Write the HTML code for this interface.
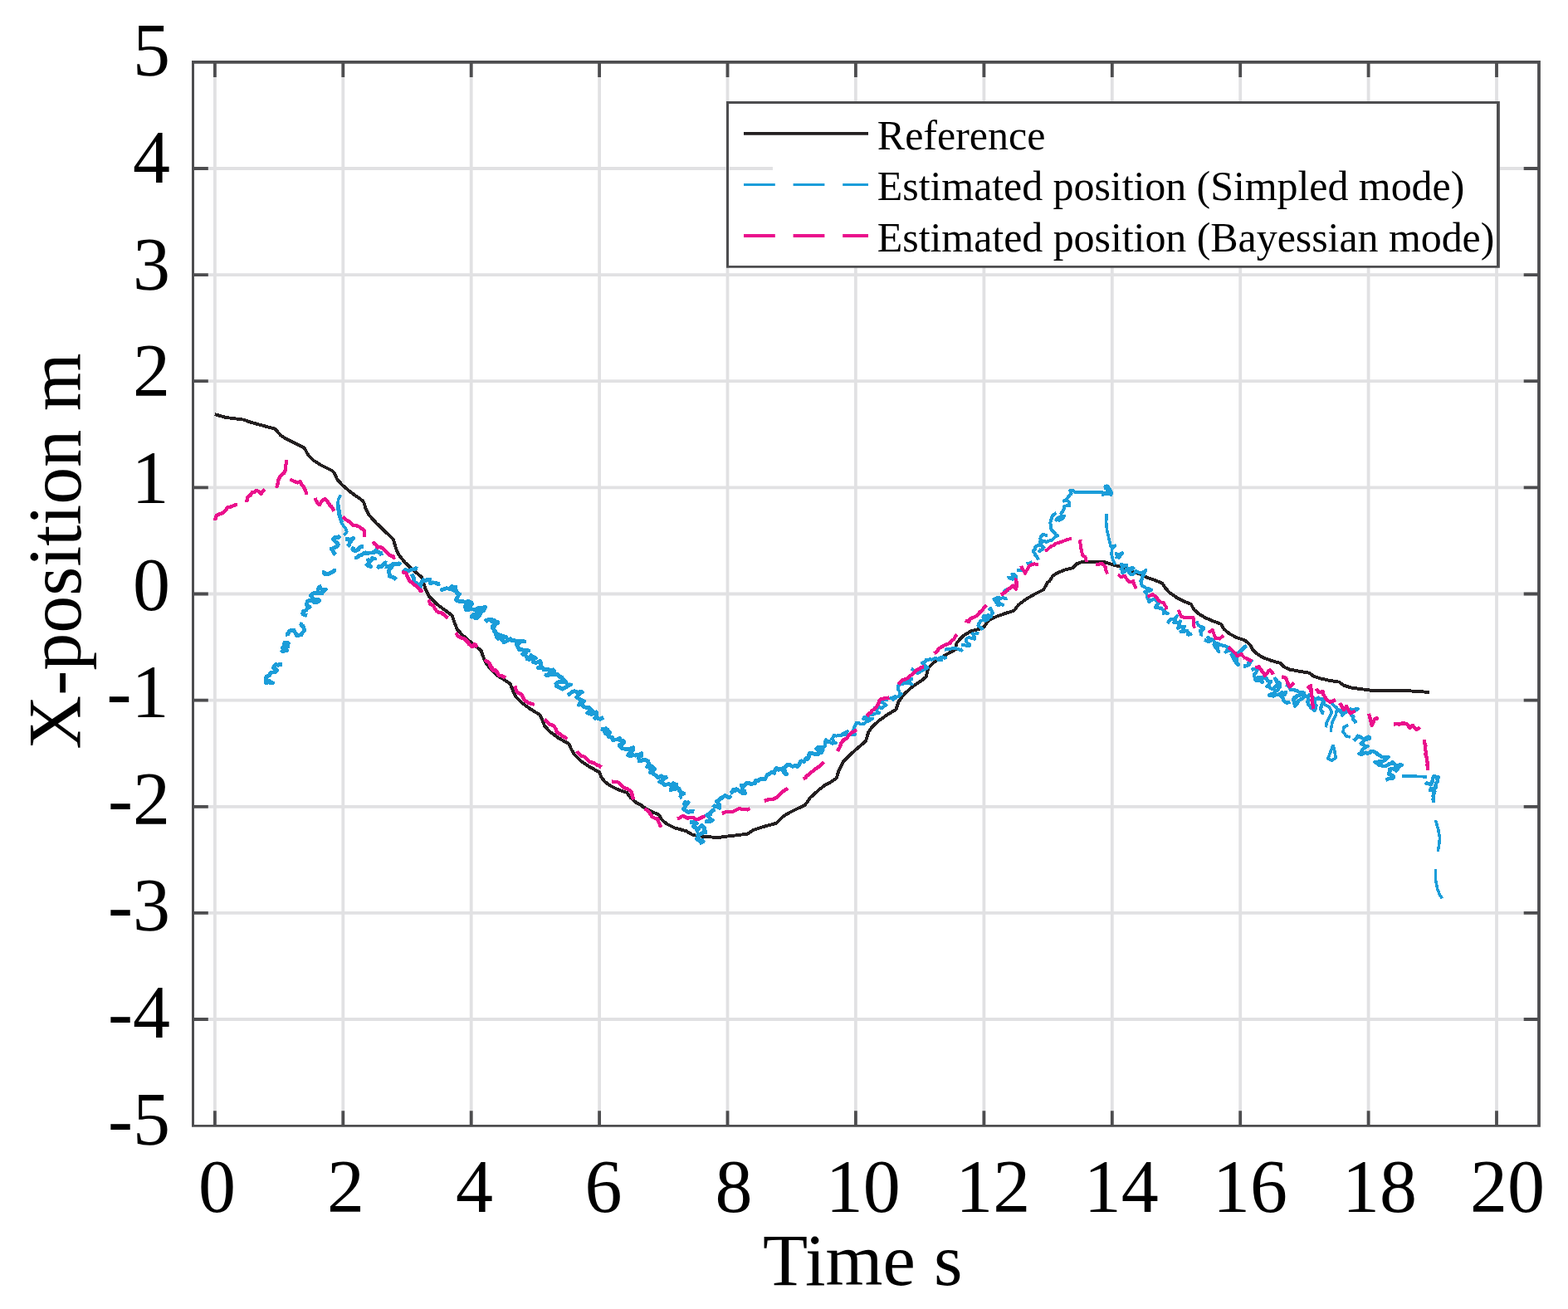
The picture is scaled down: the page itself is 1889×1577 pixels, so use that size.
<!DOCTYPE html>
<html lang="en">
<head>
<meta charset="utf-8">
<title>X-position vs Time</title>
<style>
html,body{margin:0;padding:0;background:#fff;}
body{width:1889px;height:1577px;overflow:hidden;}
svg{display:block;}
text{font-family:"Liberation Serif",serif;fill:#000;}
.tick{font-size:90px;}
.lab{font-size:90px;}
.leg{font-size:50px;}
.g{stroke:#e1e1e3;stroke-width:3.8;fill:none;}
.a{stroke:#4d4d4f;stroke-width:3.8;fill:none;}
.k,.b,.m{fill:none;stroke-width:3.9;stroke-linejoin:round;stroke-linecap:butt;}
.k{stroke:#231f20;}
.b{stroke:#1b9dd9;}
.m{stroke:#ea108c;}
.b{stroke-width:3.6;}
.m{stroke-width:3.7;}
</style>
</head>
<body>
<svg width="1889" height="1577" viewBox="0 0 1889 1577">
<rect width="1889" height="1577" fill="#fff"/>
<path class="g" d="M258.9 74.8V1356.5M413.3 74.8V1356.5M567.7 74.8V1356.5M722.1 74.8V1356.5M876.5 74.8V1356.5M1030.9 74.8V1356.5M1185.4 74.8V1356.5M1339.8 74.8V1356.5M1494.2 74.8V1356.5M1648.6 74.8V1356.5M1803 74.8V1356.5M232.5 1228H1854M232.5 1099.9H1854M232.5 971.8H1854M232.5 843.6H1854M232.5 715.5H1854M232.5 587.4H1854M232.5 459.2H1854M232.5 331.1H1854M232.5 203H1854"/>
<g id="curves" shape-rendering="crispEdges">
<path class="k" d="M258.7 499.1L271.8 502.9L293.2 505.6L302.7 508.9L328.9 516.1L331.3 516.5L337.7 524L344.8 528.8L365.5 539.1L367.8 541.5L371 547.8L378.2 555L386.1 560L400.4 567.2L402.8 569.7L406 577.2L412.3 584.3L422.6 593.1L436.1 602.6L438.2 605L440.9 613.7L444.9 620.9L452.8 629.6L472.7 648.7L474.3 651L477.1 661.3L481 669.2L488.2 678L497.7 686.7L508 695.4L510.4 702.6L512.8 710.5L517.6 719.3L525.5 727.2L535 734.3L544.6 741.5L547 748.6L550.9 758.2L557.3 765.3L568.4 774.8L579.5 783.6L581.9 790.7L585.9 799.5L592.2 807.4L600 814.5L604.5 816.9L614.8 824L617.5 831.2L621.1 839.1L628.3 846.3L637.8 853.4L650.5 861.3L652.9 866.1L656.1 874.8L663.2 882L672.8 889.1L685.5 896.3L688.3 902.6L691.8 909L699.8 916.9L710.9 924.1L722 930.4L724.4 936L728.3 941.5L734.7 946.3L744.2 951.1L755.3 955L760.1 961.4L766.5 967L772.8 970L774.6 972L784.2 977.5L793.7 981.5L796.9 987.1L803.2 992.6L812.8 997.4L827.1 1001.3L833.4 1005.3L839.8 1006.9L849.3 1008L865.2 1009L874.7 1007.7L889 1006.1L900.9 1004.5L908 999.8L917.6 996.6L935 991.8L943 983.9L950.9 979.1L970 969.6L976.3 960.8L985.9 952.1L993.8 945.8L1000 942.6L1007.9 937.4L1010.3 928.7L1015.9 917.6L1023.8 909.6L1031.8 902.5L1042.9 893L1046.1 882.6L1050.8 875.5L1058.8 868.3L1069.9 860.4L1079.4 854.8L1082.6 845.3L1088.9 836.6L1098.5 827.8L1111.2 819.1L1115.9 815.1L1118.3 804.8L1125.5 797.7L1136.6 790.5L1150.9 782.6L1152.5 774.6L1160.4 765.9L1169.9 760.3L1179.5 758L1185.8 754.8L1190.6 747.6L1200.1 742.9L1211.2 738.9L1221.5 735.7L1227.1 728.6L1236.6 721.4L1247.8 715.1L1257.3 710.3L1262 701.6L1264.4 700L1268.3 693.7L1274.6 689.8L1282.6 686.6L1292.1 684.2L1296.9 679.4L1303.2 677.1L1314.3 676.6L1328.6 676.6L1335 678.6L1342.9 681L1349.3 682.6L1358.8 685.8L1366.8 689L1374.7 692.1L1382.6 696.1L1392.2 699.3L1400.1 702.5L1404.1 708.8L1409.6 714.4L1417.6 719.9L1427.1 724.7L1435 727.9L1438.2 734.2L1444.6 739.8L1452.5 744.5L1462 748.5L1470.8 751.7L1474.7 758L1481.1 763.6L1490.6 768.4L1500 771.5L1506.1 776.9L1509.2 782.7L1514 787.5L1521.9 792.3L1531.5 795.9L1542.6 798.9L1546.6 803.4L1553.7 806.6L1564.8 808.6L1577.5 810.8L1582.3 814.5L1591.8 817.7L1602.9 820.1L1613.3 821.6L1618.8 825.6L1626.8 828.3L1637.9 829.9L1653.8 832L1669.6 832L1688.7 831.6L1704.6 832.8L1721.7 833.9"/>
<path class="b" d="M408 608.2L409.3 619.3L412.5 629.6M410.7 596.3L407.5 601.8L406.8 611.3L408.3 620.9L411.5 630.4L416.3 636.8L417.9 640.7L413.9 644.7M1293.7 593.2L1328.6 593.2M1333.1 619.1L1332.6 629.4L1333.7 638.9L1335.8 648.5L1338.2 658L1343.7 657.2L1339.8 661.2L1339 667.5L1340.6 673.9L1343.7 680.2M1595 848.6L1601.3 851.8L1604.5 858.2L1601.3 864.5L1598.2 870.9L1597.4 876.4M1604.5 847.1L1610.9 853.4L1609.3 861.3L1605.3 869.3L1603.7 877.2L1603.4 882M1606.1 897.1L1602.9 905.8L1599.8 913.8L1604.5 916.1L1609.3 913L1607.7 904.2L1606.1 897.1M1688.7 935.2L1704.6 935.2L1718.9 936M1624.4 873.3L1618.8 876.4L1618 882L1622 886.8L1626.8 888.3M1726.9 963.7L1726.9 966.8M1729.5 988.1L1732.5 998.6L1734.6 1009.7L1733.6 1018.1L1732.3 1025.8M1729.5 1047L1729.7 1061.4L1731.8 1071.1L1734.6 1078.1L1737.4 1082.3"/>
<path class="b" style="stroke-width:3.9" d="M1000 894.5L1002.6 895.7L1006.8 895.3L1003.9 894.1L1003.6 891.5L1001.9 890.3L1004 887.9L1004.7 885.9L1007.7 886.7L1009.9 885.8L1013.4 886L1014.7 884.7L1016.1 883.8L1019.3 882.6L1020.9 881L1017.9 882.5L1016.1 884.7L1019 885.1L1021.2 885.1L1023.8 884.6L1027.4 884.9L1030.4 884.9L1029.4 882.7L1028.5 880.3L1028.4 878.3L1029.6 875.3L1030.6 873.5L1031.9 870.5L1034 870.6L1036.7 872.5L1039.7 872.4L1041.7 871.2L1044 869L1047.1 868.5L1049 867L1051.4 865.6L1048.3 866.6L1045.4 865.4L1041.9 865.8L1040.3 866.2L1041.3 863.9L1043.8 864.5L1045.6 862.4L1048 861L1050.7 861.3L1053.7 859.8L1055.7 859.4L1059 858.7L1056.5 857L1055.8 855.7L1053.8 852.7L1057.1 853.8L1059.3 851.9L1061.8 853.4L1063.7 852L1066 850.1L1067.6 849.4L1065.5 847.7L1063.1 846.6L1059.9 845.6L1062.5 843.6L1064.8 843L1067.2 843.2L1069.6 842.5M1071.5 840.6L1074.1 840.8L1076.8 839.9L1078.8 838.9L1078 840.3L1076.3 842.8L1077.6 841.4L1080.5 839.7L1082.1 839.3L1084.1 837.3L1086 835.9L1083.8 834.9L1083.2 832L1081.5 830.7L1081.8 828.2L1081.9 826L1085.1 823.9L1087.5 824.1L1090.3 822.4L1093.4 823.1L1095.6 822.5L1098.6 824.3L1095.9 823.1L1094.5 821.7L1092 820L1095.3 819.6L1098 818.3L1100.2 818.1M1097.7 805.6L1099.7 806.8L1101.7 808.9L1103.6 808.7L1105.5 810.9L1108.9 809.2L1110.7 808L1113 806.9L1115.4 805.7L1117.7 804.3L1115.3 802.5L1113.6 801.5L1110.9 798.7L1114.3 797.7L1115.5 795.2L1117.7 795.4L1120.5 794.1L1122.5 794.8L1125.6 793.4L1127.7 793.1L1130.1 795L1132.2 795.3L1134.5 795.4L1132.4 793.7L1130.3 793.4L1133.5 792.1L1135.5 791.3L1138.1 792.8L1140.8 791.9M1138.2 782.6L1140.9 782.3L1143.5 782.2L1147 781.3L1149.8 780.6L1151.5 780.9L1154.3 782.1L1156.5 783L1158.7 783.7L1157 781.7M1158 777L1160.7 777.5L1162.5 777.3L1165.2 778.1L1168.2 778L1167.7 775.9L1165.4 774.8L1163.8 771.9L1163.9 770.6L1165.5 768.6L1167.6 767.9L1170.4 768.9L1172.8 768.7L1174 770.2L1173.8 767.3L1172.8 765L1171.4 763.4L1174.1 763.7L1176.9 762.8L1179.2 763.6M1184.2 758.8L1182.3 756.5L1180.7 755.7L1178.4 753.8L1179.2 751.3L1180.7 749.6L1180.9 748.2L1183.7 747.3L1185.8 746.8L1187.3 745.7L1185.7 743.7L1184.2 743.5L1185.8 741.7L1188.4 741.6L1191 740.8L1188.9 743.2L1188.1 744.4L1187.4 747.9L1190.2 746.1L1191.3 744L1193.6 743.5L1194.5 740.1L1196.3 738.5L1195.1 736.5L1193.6 734.4L1192.2 733.7L1195 732.4M1208 728.6L1205.9 728L1203.4 727.1L1200.5 726.7L1199.2 723.6L1197.4 721.7L1199.3 721.2L1201.2 720.2L1203.8 719.8L1206 721.1L1207.5 720.2L1211.1 720.8L1212.3 720.3M1209.6 712.7L1211.2 710.9L1214.1 709.8"/>
<path class="b" style="stroke-width:4.0" d="M1200 727.9L1202 729L1205 728.4L1208.5 728.6L1205.9 727.8L1203.8 725.8L1201.5 723.5L1204.1 721.7L1205.7 720.8L1208.8 720.1L1211.4 721.3L1213.3 720.4M1208.7 712.8L1211.5 712.5L1213.2 711.9L1215.5 710.8M1213.5 696.1L1216.1 695.7L1218.4 697.5L1220.2 697.6L1220.4 694.5L1219.4 691.7L1222.4 692.3L1224.3 694.6L1226 694.5M1224.6 687.4L1227.6 687.5L1229.2 687.3L1232 686.2M1236.5 678.6L1238.4 678.5L1240.5 678.5L1243.5 677.1M1250.8 674.7L1250.2 672.8L1248.7 670L1247 668.5L1247.3 667.2L1245.3 665.4L1245.3 663.2L1247.4 660.8L1247.3 659L1249.1 657.5L1251.5 656.9L1253.5 656.8L1255.8 658.4L1257.5 659.5L1255.5 661.9L1254.1 662.6L1252.1 664.1L1253.1 663L1254.3 661.1M1254 656.4L1252.7 653.3L1254.2 650.6L1253.2 648.7L1254.2 646.3L1256.1 643.8L1258.7 644.4L1261.9 645.3M1254.8 653.2L1257.7 652L1261.1 652.9L1263.2 651.7L1265.5 651.1L1267.8 650.3L1270.1 648L1271.3 646.6L1273.8 645.5L1271.4 643.5L1270.1 641.1L1268.5 640.6L1266.9 638.1L1265.7 635.8L1266.1 632.8L1265.2 630L1266.1 627.4L1266.3 626.2L1267.1 623L1267.8 621.8L1269.6 620.1L1272.5 617.6M1271.5 627.8L1272.7 626.3L1273.8 624.3L1276.1 623.1L1279.6 621.9L1282.1 621.8L1280.8 624.3L1277.1 626.4M1277.8 619.9L1278.9 617.7L1281 615.1L1281.9 612.3L1282.3 610L1285.2 609.2L1287.1 608.3L1288.4 609.3L1288.4 606L1286.9 603.9L1284.6 602.7L1281.6 603.5L1284.5 602.2L1286.4 599.6L1288.4 596.6L1290.7 594.6L1289.2 590.9L1291.4 591L1293 591.4L1295.2 592.9M1327.1 593.2L1330.1 593.8L1333.5 594L1330.8 594.8L1328.6 596.1L1331.2 594.7L1334.6 595.1L1337.4 595.1L1338.5 595.9L1338.9 594.1L1338 591.7L1336.4 589.1L1333.6 587.5L1332.2 586.9L1329.9 585.2M1342.9 667.5L1345.5 667.4L1348.7 668L1352.1 666.3L1350.4 668.5L1348.9 670.3L1348.1 671.8L1345.4 670.9L1343.6 670.7M1349.3 680.2L1351.7 680.4L1354.8 680.8L1357.6 680.8L1355.4 681.7L1352.5 683.2L1350.5 685.5L1352.6 687.2L1352.2 690.2L1354.6 688.8L1355.8 687.6L1357.2 685.5L1360.6 685L1363 684.4L1365.7 684.3L1363.6 686.4L1360.5 686.8L1359 687.6L1360.5 689.9L1362.5 691.6L1363.2 692.5L1365.6 691.3L1367 690L1368.7 687.8L1370.6 689.2L1371.9 689.7L1375.1 690.1L1378.2 688.7L1380.5 687.1L1378.4 690.3L1377.9 692.9L1376.2 694.3L1376.3 696.9L1374.2 699.6L1375.5 701.2L1375.2 703.9L1376.5 706.2L1378.2 707L1381 708.6L1383.5 708.7L1385.5 710L1386.9 710.7L1384.7 711.7L1381.7 711.6L1379.2 713.3L1381.2 714.8L1382 718.1L1382.2 720.3L1384.4 723L1384.2 725.4L1386.2 722.7L1388.1 722.6L1390.9 721.3L1393.2 723.4L1394.4 725.5L1396.7 725.7L1395 728.1L1392.8 729L1392.1 731.8L1393.7 731.6L1396.9 732.6L1398.7 732.4L1400.5 734.5L1402.7 735.6L1404 738.1L1406.7 738.8L1403.9 738.5L1400.1 738.6M1406.5 750.9L1407.9 748.9L1410.5 746.2L1412.9 745.7L1415.3 745.2L1417.8 742.3L1416.2 744.7L1416 747.3L1414.3 750.1L1417.6 749.7L1419.6 749.8L1421.8 748.5L1421.2 751L1420 753.4L1419.2 756.7L1421.3 755.3L1424.7 755.5L1426.9 754.5L1425.7 756.9L1424.5 759.8L1422.4 760.8L1425.5 760.7L1427.1 760.8L1429.9 759.5L1431.5 761.9L1432.6 762.7L1434.5 764.2L1431.8 764.6L1429 763.5M1441.4 748.5L1442.6 751.3L1443.5 752.9L1446.1 754.7L1448.1 755.3L1450.3 756.7L1449.6 758.4L1445.6 759.7L1446.7 761.5L1447.1 764.3L1446.8 766.5M1450.9 770.8L1453.2 771.8L1455.6 772.8L1457.8 772.7L1457.1 769.9L1455.4 768.1L1457.6 769.5L1459.1 770L1461.6 770.9L1463 773.2L1462.5 776.5L1463 778.1L1465.4 780.9L1466.8 782.7L1468.1 785.3L1467.3 782.9L1467.4 780.6L1466.3 777.6L1466.9 774.8L1468.8 776.4L1471 777.4L1473.6 777.6L1474.9 778L1478 779.2L1479.4 780.1L1478.2 783.3L1476.5 785.7L1478.5 783.9L1481.4 783.6L1484.6 783.5L1484.9 786.3L1486.3 788.7L1485.7 790.8L1486.3 794.1L1488.1 795.3L1489.6 798.3L1490.2 799.6M1500 778.7L1497.4 780.9L1495.5 782.3L1493.8 784.3L1493.9 786"/>
<path class="b" style="stroke-width:4.4" d="M1502.1 778L1500.3 779.4L1498.9 780.4L1496.4 782.7L1495.4 783.2L1494.7 785.3L1491.7 786.8L1489.6 789.4L1489.8 792.2L1489.3 794.3L1489.8 796.8L1490.6 799.7L1491.8 800.8L1489.7 799.4L1487.7 796.2L1487 793.3L1485 791.8L1484.4 789.3L1482.7 787.3M1498.1 802.6L1500.5 802.4L1501.7 802L1504.3 801.1L1506 797.6L1507.9 796L1504.9 797.6L1503.8 799.1L1501.7 798.9M1507.6 807.3L1510.1 806L1513.6 806.3L1515.2 806L1514 808.6L1513.2 810.2L1510.9 812.4L1510.7 813.8L1512.2 816.9L1512.4 819.1L1514.8 820.3L1517.6 820L1521 821.9L1518 819.5L1517 818.1L1515.3 815.8L1517.9 816.5L1520.1 816.5L1523.6 816.7L1525.8 816.9L1526.5 819.6L1529.3 821.2L1531.2 821.1L1529.5 823L1528.2 825.4L1526.2 826.9L1528.9 827.1L1530.3 829.1L1533.3 830.1L1535.6 827.6L1537.5 826.4L1540.2 823.2L1538 821.7L1536.4 817.6L1538.7 821.4L1540.8 821.9L1542.3 824.3L1541.9 827.8L1540.5 828.9L1539.4 831.5L1537.1 832.1L1535.7 834.7L1533.4 835.6L1529.8 837.1L1528.9 837.8L1531.7 837L1533.8 838.7L1536.2 837.1L1540.1 836.8L1542.2 836.2L1544.5 834.3L1545.8 835.3L1549.3 834.1L1547.5 836.8L1545.4 837.5L1543.4 839.3L1545.4 840.5L1546.1 843.9L1547.5 845.2L1549.9 846.6L1554.5 845.9M1548.9 824.8L1551.5 825.8L1553.9 828.2L1554.8 831L1558.1 830.8L1560.8 831.6L1562.9 832.6L1565.3 834L1567.7 833.8L1570.6 834.7L1568.1 835.4L1566.9 837.2L1564.4 838.3L1562.2 838.4L1561.2 840.5L1558.8 840.4L1558.3 843.3L1560 846L1559.2 847.5L1560.3 850.5L1561.8 848.4L1563.1 846.8L1564.2 844.2L1567.5 842.4L1569.5 841L1571.1 838.9L1572.7 838.6L1575 838.9L1577.9 837.2L1576.3 839.3L1575.9 842.3L1575.6 844.7L1575.8 848.2L1578.8 851.1L1579.1 852.8L1582.4 854.5L1583.8 855.8L1584.6 853.7L1585.6 849.9L1583.5 848.5L1584.3 844.6L1582 842.2L1583.6 841.7L1586.5 842.3L1588.4 840.7L1590.2 842.3L1593 842.4L1595.3 844.7L1594.6 847.1L1592.9 847.5L1591.9 850.6L1590.8 853.9L1592 856.6L1593.5 858.8L1595.2 859.3M1612.5 855L1614.3 856.1L1616.4 859.1L1617.2 861.4L1618.5 860.3L1620 857.5L1622 857.4L1623.6 856.2L1626.8 854.3L1628.9 855.2L1630.8 855.1L1635.5 853.9L1632.3 856.3L1629.5 857.3L1628.1 860.5L1628.2 861.6L1630.4 863.4L1629.9 865.7L1631.7 868.3L1633.8 871.2M1630.7 892.3L1633.4 890.2L1634.3 889.2L1635.7 886.6L1639.5 888.2L1642 889.8L1644.1 890.2L1645.7 889.2L1648.6 887.6L1650.2 888.6L1649.7 889.9L1647 890.6L1644.8 890.8L1642.7 893.1L1641.1 894.1L1639.7 895.9L1641.8 896.9L1644.5 899.1L1647.6 898.9L1645.3 900L1642.4 902.2L1640.6 904.2L1640.4 906.8L1637.3 908.2L1640.5 908.6L1643.2 907.5L1645.5 906.7L1647.4 907.8L1650.5 906.7L1651.8 904.9L1655.1 905.5L1658.2 907.1L1659.4 908.7L1662.2 910.1L1664.8 912L1668 911.8L1670.4 912.1L1672.5 911.8L1670.6 913.9L1668.3 915.8L1666.9 916.8L1664.2 917.8L1661.2 917L1658.7 918.9L1656.6 918.1L1659.6 920.2L1661.1 921.6L1663.6 922L1665.9 923.1L1668.5 923L1671.7 921.6L1672.8 920.7L1675 920.1L1677.5 918L1678.7 919.7L1680.3 921L1682.5 924L1684 921.8L1686.7 921.6L1688.8 921.7L1685.9 923.3L1684.1 926.1L1682.3 928.6L1679.7 926.5L1677.5 926.1L1674.2 926.7L1674.6 929.2L1673.2 931.5L1673.6 933.2L1676.6 933.6L1679.1 935.7L1677.8 937.8L1674.3 937.7L1672.1 938.5L1669.3 939.8M1717.3 942.3L1718.8 943.8L1720.9 944.1L1723.7 945.3L1725.4 942.7L1725.6 941.3L1725.9 937.9L1727.5 935.4L1729.7 935.7L1733.2 936.3L1731.4 938.2L1731.9 941.4L1729.8 944.2L1729.5 946.9L1729.8 948.2L1728.9 949.8L1725.4 950.1L1723.8 950.3L1722.9 952.2L1725.7 952.3L1728.4 953.5L1727.8 955.2L1726.6 958.9L1726.9 961.2L1726.5 963L1727 966"/>
<path class="b" style="stroke-width:4.8" d="M318.3 823.3L321.6 822.3L323 821.5L325.3 822.4L328.6 822.8L325.8 822.2L323.8 820L320.5 819.9L320.2 816.5L320.9 815.2L324.3 813.7L326.1 810.3L329.4 809.9L331.4 809.5L333.8 807.4L331.3 805.7L329.5 804.5L330.7 802.1L332.5 800.2L334.8 801.4L336.8 800.4L339.7 800.6M338.9 786L339.9 784.9L343.8 783.6L345.6 783.7L344 781.3L340.3 780.6L341.1 779.7L344.6 778.7L346.8 779L343.3 778.5L342.3 775.8L343.1 774.2L346.8 775.1L349 773.4M346.9 766.1L346.1 763.5L348 761.7L348.7 760.5L350.9 759.3L354 759.3L355.9 762.6L357 764.4L357.7 765.9L359.6 765.6L361.4 764.8L362.9 765.1L364.7 761.7L366.2 760.2L366.2 757.5L364.9 754.1L362.9 753.1L363 752.2L361 750.9M369.9 741.5L366.7 740.5L364.7 739.6L365.1 736.7L368.4 735.4L371.4 731.5L373.2 731.2L370.7 730.1L369.1 728.1L370.4 724.7L372 723.5L375.7 723.2L377.9 725.5L379.5 725.2L382.1 725.3L384.7 723.5L382.9 722.2L377.9 721.9L376.3 719.6L374.4 717.6L377.4 715L378.3 714.6L381.4 714.6L384.2 714.4L387.8 715L388.7 713.2L392.3 710L388.5 710.4L385.8 708.9L383 709.6L384.8 707.2L387.6 705.9M390.5 687.5L389.9 689.8L392.1 691.8L395.2 691.8L397.9 690.4L400.8 689L402.9 687.8L403 684.6M409.6 645.4L408 647.3L405.4 647.3L404.2 647.2L401.5 649.5L402.9 651.5L406.2 654.4L407.4 655.8L406.2 658.2L404.3 658.8L402.1 660.5L399.3 661L401.1 664.1L402.4 666.3L404.3 668.1M415.9 649.4L418.7 649.3L421.2 650.4L422.5 650.1L425.9 648.4L422.9 650.5L423.1 652.5L420.9 654.1L421.1 656.4L418.7 658.5M423.1 659.7L425.7 660.8L425.7 663L428.6 663.5L431.8 662.1L432.4 660.3L434.9 658.5L437.8 658.1M427.1 672.4L429.7 671.7L432 669.9L435.3 668.5L437.5 667.1L440.5 665.7L442.2 666.9L445.1 666L448.1 665.9L450.5 665.5L452.5 662.9L454.6 665L456.6 665.6L458.9 666.2L459.6 669.4M440.6 678.8L442.5 680.8L443.1 681.6L446.8 682.4L444 681.1L444.7 677.6L443.6 674.6L446.9 675.4L448.3 672.7L451.6 673.1L451.9 675.3M454.8 685.1L456.9 682.3L459.9 682.4L461.2 680.3L464.6 677.8L466.3 678.2M463.6 682.7L467.4 682.9L468.6 682.1L472.3 680.8L473.3 679.3L477.2 680L480.8 678.9L482.7 680.6M473.1 681.1L472 682.8L469 685.9L468.6 689.2L469.3 692.3L469.3 694L471.9 695L474.4 695.8L477.2 698.6M484.2 689.1L486.3 688.7L488.7 686.3L492.2 688.1L495.5 686.1L498.9 685.9L501 684.6L503 685.2M496.1 691.5L497 693.4L499.1 697.3L498.1 698.8L499.4 701.3L502.3 703.1L503.8 704.8L506.4 706.6L507 704.3L507.6 701.9L510 698.8L512.7 699.5L514.4 698.2L518 698.2L517.9 700.5L518.8 702.9L521.7 701.9L524.3 702L527.9 703.8L530.2 702.8M530.3 711.3L532.1 710.7L535.7 709.6L538.2 708.7L542.2 709.6L544.4 706.3L547.4 707.9L548.8 707.1L548.6 710.1L546.1 711.1L550.2 712.2L550.5 715.2L553.5 715.6L552.6 715.9L551.7 718.6L550.7 720.2L549.6 722.4L550.9 723.6L553.5 724.4L556.6 724.3L559.5 725.3L562.5 724.9L563.5 724.5L566.5 725.1L563.9 725.8L563.8 729.9L560 730.6L561.5 734.3L563.9 734.7L566.8 733.5L570 734.1L573.5 734.4L575.3 733.1L577.6 731.9L582.2 732L584 731.5L583.1 735.2L580.5 736.1L578.4 738.1L576.3 739.3L572.1 740.1L570.6 740.1L568.2 743.2L571.4 742.2L574.9 742.8L577 742.3M584.3 748.6L585.8 747.2L588.7 746.7L592.5 747.7L595.1 747.2L597.6 750.5L596.1 752.5L595.7 754.4L594.1 757.4L595.1 759.1L595.3 760.1L597.1 762.4L597.7 764.9L599.9 767M560 734.3L563.3 733.9L564.3 733.7L566.6 731.7L567.6 727.5L570.6 725.9M567.9 742.2L569.6 742.2L572.3 744.6L574.6 744.6L577.3 742.2L578.8 739.5L579.5 736.7L581.7 734.8L583.6 733.7L584.7 731.6L583.9 733.1L580.8 733.9L578.1 734.7L575.3 733.9L571.6 735.9M584.6 749.4L587 747L588.4 747L592.5 746.4L592.8 748.6L595 749.1L599.4 749.3L599.5 750.4L598.4 751.2L595.3 752.8L593.3 754.6L593.3 756.4L595.5 759L597.6 762L599.7 764.4L602 765L603.8 765.6L606.9 766.8L608.7 768L609.9 767.6L608.3 768L606.3 767.9L602.5 767.5L599.7 767.6L598.2 767.6L600 769.3L602.2 768.4L604.8 770.7L606.3 772.1L607.2 774L609.7 772.6L612.2 771.1L614.9 769.7L616.8 771.8L619.6 771.5L622.6 772.8L625.2 772L629.3 772.4L632 773.1L629.2 772.2L626.6 773.8L622.3 776.3L624.1 779.2L624.7 780.6L625.9 783L628.6 782.7L631.2 784.1L633.9 783.2L636.9 783.9L634 783.7L633.4 786.9L629.7 788.3L632.8 789.3L634.5 791.1L635.1 793.9L637.8 794.4L639.1 792.2L643.8 792.8L645.3 793L643 791.8L641.8 792.1L639.8 789.4L640.5 792.1L642.5 795.6L642 797.5L645.8 798.5L648.4 797.6L650.4 796.6L651.6 798.3L651.9 799.8L650.7 803.1L648.4 804.6L650.7 805.1L653.5 804L654.9 806.6L658.1 806.5L660.6 806.3L662.5 807.5L666.5 806.9L667.6 808.5L665.9 810L662.4 809.5L661.1 811.8L658.9 813.2L657.8 813.2L660.1 813.7L660.9 813L663.3 812L667 812.5L669 812.2L672.2 812.6L674.9 816L676.5 815.7L678.6 818.9L679.5 819.5L682.4 822.8L679.5 820.9L675.9 822.1L674.3 821.3L672.2 822.3L669.9 823.4L670.2 826.2L672.9 827.6L674.2 828.2L677.7 830.2L681 828.3L682.5 827.3L685.6 825.6L688 824.4L688 822.8M683.9 837.5L686.3 836.1L689.1 833.4L691.8 832.8L694 833L696 834.6L698.5 833.6L701.4 833.7L699.5 834.5L696.6 837.2L694.7 840.2L697 841.5L698.5 842.2L699.7 843.4L703.6 844.7L702.1 846.6L699.3 845.5L697.5 849.2L700.5 848.8L703.8 851.6L706.2 852.5L709.4 852L710.8 853.4L713.2 855.7L711.3 855.9L709.2 858.2L707.9 859L709.6 859.6L712.5 860.5L715.4 858.8L718.6 857.9L719.1 860.5L718.3 863.6L716.7 865.4L718.5 864.9L722.8 866.4L723.8 866L727.1 864.4M723.6 878L726.7 878.4L729.8 877.7L731.7 879L732.8 881.2L734.9 882.6L733.4 883.3L731.2 882.4L728.6 881.8L729.6 883.7L733.2 884.9L733 887.5L737.5 888.5L738 891.4L740.5 891.1L744.1 890.9L746.8 889.3L747.2 892.2L751.1 892.6L751.5 894.8L749.6 897L747 897L746.3 897.3L746.8 899.2L749.1 901.2L751 901.9L754.2 902.4L758.5 902.5L760.6 901.3L763 900.6L762.7 903.5L760.8 905.9L758.7 906.8L756.5 909.9L760.3 911L761.4 909.5L765.7 910.2L766.7 909.4L770.1 909.9L772.7 907.6L773.1 909.9L770.4 912L769.7 913.2L770.2 917L772.2 916.9L775.4 915.1L778 915.8L780.7 916.9L781.7 919.9L783.1 921.9L786.1 923.7L781.4 922L779.8 923.6L782.2 923.3L783 926L786.4 925.5L788.8 926.4L787.2 928.4L784.1 929L783.6 930.6L786.1 931.3L789.1 933.5L790.6 934.9L792.8 936.7L796.7 934.9L797.6 937.2L802.4 936.5L799.9 938.3L798.2 940.5L794.8 942L797.6 942.8L800.9 946L802.6 945.1L806.3 944.6L808 946.4L810.9 943.8L814.9 945.2L811.6 945.5L812.6 948.5L808.8 949.3L808.4 951.9L810.8 950.1L812.5 950.9L814.8 949.8L818.1 949.8L818.9 953.5L821.7 955L823.9 956L820.3 957.7L819.9 960.1L818.4 961.2M823.6 970L826 969.9L827.9 968L830 965.3M830.2 964.8L828.7 967.3L825.2 966.6L824.5 968.3L825.7 971.2L823.3 974.9L825.6 976.1L829.2 978.7L831.9 977.1L833.9 977.1L836.5 977.6M831 991L834 990.5L837.2 989.7L839.3 991.8L837.3 991.8L835.2 995.8L837.4 997.1L838.7 997.8L840 1001.2L840.8 999.2L843 996.5L845.7 994.5L848.5 997.2L848.4 999.2L850 1002.8L847 1003.2L844.7 1004.5L840.7 1006.4L841.5 1008.7L839.3 1010.2L841.3 1012.2L845.8 1012L847.1 1013.7L845.3 1014.6L842.6 1015.9M849.3 989.4L852.5 989.9L855.4 989.4L858.2 988.1L855.6 986.6L854.4 984.9L851.6 981.9L855.7 981L855.4 979.5L857.4 977.1L861.4 975.2M858.8 969.6L861.2 971.5L864.6 971.8L867 973.5L866.8 969.8L865.4 967.9L863.3 965.8L866 964L867.8 961.6L869.5 962L871.4 959.8L873.6 958.5L877.6 960.5L879.5 960.3L881.2 961.4M879.5 955.3L881.4 954.8L883.4 951.4L885 952.9L887 950.7L889.2 952L891 953L894.3 955.3L897.6 955.5L896.9 953.2L894.1 951.1L894.1 948.1L893 946.1L896.2 946.7L899 943.7L901.5 943.1L903.8 944.2L906.2 944.3L909.5 943.7L910 940.6L913.3 940.9L915 939L916.8 938.3L920.1 938.3L921.7 938.6L923.9 934.1L925.6 932.7L927.3 932.1L929.7 930.4L932.8 931.3L933.1 929L933.8 927.6L935.3 925.4L937.9 927.3L940.3 926L943.5 927.2L943.4 929L944.9 931.2L947.8 932.8L945.8 932.5L945.8 928.4L944.4 925.8L943.7 925.2L946.1 924.1L948.4 921.5L951.4 921.6L952.7 922.4L955.1 923.3L958.3 922.4L960.3 923.7L963.2 920.8L964.1 917.3L965.7 916.8L968.6 917.5L971 913.7L972.9 914.4L974.7 911.7L974.1 909.7L975.4 907.7L977.5 907L981.1 908.3L982.5 909.1L985.6 908.4L986.3 905.6L989.5 906.7L991.2 903.7L988.1 904.9L986 903.7L983.5 901.9L986.2 900.1L988.1 900.2L992 900.6L993.8 898.7L994 897.7L994.1 895.5L995 891.7L997 894L1001 893.7"/>
<path class="b" style="stroke-width:7" d="M1273.4 627.5L1274.6 626L1277.1 624.3L1280 623.4M1331.5 586.2L1333.8 587.2L1335.1 589.7L1337 592.1L1337.8 594.9"/>
<path class="m" style="stroke-width:4.0" d="M1220.6 706.4L1223.5 705.2L1223.8 700.5L1223.9 696.5M1230.2 681.8L1231.3 685L1234 687.9L1235 691L1236.3 688.2L1238.5 685L1240 681.7L1242.7 680.5L1246 679.3L1250.9 680.2M1258.8 663.6L1261.6 662.3L1263.9 660.1L1266.8 658L1269.4 656.9L1271.6 655L1274.3 654L1279 652.9L1283.1 651L1285.2 649.9L1288.3 649.5L1290.9 648.8M1301.6 650.1L1301.3 654.2L1302 657.4L1302.4 661.2L1303.4 665.3L1304.2 668.9L1307.3 671L1308.4 673.6L1308.7 676.7M1319.9 680.2L1323.7 679.7L1326.9 678.6L1329.5 680.5L1331.8 683.5L1332.6 687.8L1334.1 691.5M1346.9 692.1L1350.2 695.1L1355.2 693.9L1356.7 696.6L1358 698.6L1360.5 701.4L1365.3 700.1L1366.2 703.5L1367.3 706.1L1368.9 708.9M1382.6 719.1L1385.8 717.5L1388.6 716.2L1391.6 718.3L1394 720.6L1395.1 723.3L1398.6 725.4L1402 726.3L1403.3 728.7L1404.7 731.2L1405.4 734.5M1419.2 735L1420.8 737.2L1422.1 740.9L1423.4 742.8L1426.8 744.1L1430.3 744.3L1434.2 743.8L1437.3 743.5L1438.3 747.1L1438.2 750.1L1438.1 753.4L1439.1 756.8M1455.7 762L1458.5 760.3L1460.7 758.8L1461.6 761.7L1463.1 765.6L1464.4 768.9L1467.6 768.9L1469.6 769.6L1471.3 767.7L1474 765.7M1480.3 779.5L1483.3 782.5L1485.7 784.7L1488.2 787L1490.8 790.2L1495.5 788.2L1497.8 790.8L1500.1 793.4"/>
<path class="m" style="stroke-width:4.3" d="M259.1 627.2L259.6 624.5L260.8 621.1L263.2 619.7L266.2 619L269.2 617.5L271.6 614.8L274.1 611.5L276.8 611.1L279.7 609.8L282.7 608.6L286.1 607.8M297.2 605.3L297.6 602.4L298.8 598.2L301.8 596.6L303.6 593.3L307.2 592.6L309.4 590.7L312.6 592.8L314.8 594.9L316.3 591.8L318.9 589.3M332.9 587.8L334.1 584.9L334.9 581.7L335.5 578L337 574.9L339.5 572.1L342 570L344 565.9L343.7 562.3L344.8 558.3L345.4 554.3M349.6 577.2L351.5 578.5L354.6 580.1L358.5 581.5L361.6 580.2L363.2 583.7L365.8 586.7L368 590.7L368.9 593.6L369.7 596M379.8 599.9L380.7 603L382.3 605.4L384.9 608.3L386.8 604.9L389.3 601.8L391.9 601.2L394.7 604.6L397.3 608.5L399.5 610.4L401.2 613.4L402.5 615.9M412.8 622.4L415.3 624.7L417.8 626.7L421.1 628.7L423.5 631L425.4 632.9L430.4 633.5L432.7 634.7L435.3 636.7L437.7 637.7L439.2 640.1L438.8 643.3L439.3 646.7M449.3 652.6L451.1 655.2L453.4 657.1L454.6 659.5L457.8 659L460.5 660L463.7 662.9L466 665.9L468.6 668.2L471.3 669.9L473.9 670.4L474.9 673.8M484.2 689.1L489.2 690.2L490.4 693.9L492.1 697.3L493.6 699.9L497.3 702.9L499.9 704.9L502.4 706.7L504.9 709.5L506.5 712L509.6 710.9M516.8 722.4L517.3 725.1L518.4 727.9L522 729.4L523.8 732.9L526 736.2L528.2 737.7L532.2 738.3L534.6 740.5L537.1 743L539.9 744.5M549.3 762.1L551.7 766.5L554.7 768L557 768.8L560.7 770.1L562.6 771.9L564.8 775.1L566.7 777.6L569.6 778.6L575.2 777.2M584.3 794.7L586.4 796.9L588.8 798.4L590.8 801.3L592.6 804.4L593.8 807.5L597.3 808.7L600 810.3M560 770L562.6 772.8L564.7 775.8L568.3 778.9L571.8 776.2L575.2 779.5M584.6 795.4L586.9 796.8L589.8 799.6L590.8 803L592.8 806.7L596.7 807.1L598.7 810.2L601.2 813.6L605.5 814.6L609 816.5M620.3 826.4L621.3 830.1L622.9 833.7L624.8 835.2L627.8 836.1L629.7 839.3L631.4 843L634.4 845.3L636.8 847.2L640.9 847.8L643.9 849M656.1 866.9L658.7 869.5L661.4 872.3L664.9 873.4L667.9 875.3L669.7 878.5L671 882.4L674.9 884.3L677.1 886.5L680 888.1L683.6 890M695 905L697.6 908.2L699.7 910.4L702.4 910.9L705.3 912.4L707.7 915.3L711 918.2L713.9 918.6L716.3 919.8L719 921.5L721.4 922.2L724.5 924.3M737.1 941.5L740.3 942L743 941.7L745.1 942.9L747.3 944.7L749.8 947.1L751.8 949.2L755.8 950.3L758.2 952L760.4 953.7L761.4 956.7L761.8 960L763.6 963.2M776.2 974.3L779.6 976.1L782.5 979.3L784.4 981.7L785.6 984.1L788.3 985.5L792.3 986.3L792.8 989.2L794.3 991.7L796 996.7M815.9 986.3L819.4 985.3L822.4 982.8L825.1 984.1L828.5 985.8L831.5 985L835.4 985.3L837.6 986.6L841.1 987.1L844.2 985.5L846.3 984.2L849.7 983.2M869.9 979.9L872.7 979L875.1 977.7L878.5 977.9L883.1 977.7L886.8 975.9L890.5 974.1L894 974.8L896.7 975.1L900.2 975.4L903.6 974M920.8 964.8L924.3 963.7L927.3 962.8L930.5 963.1L933.4 962.1L935.7 960.6L938.1 958.2L940.8 955.6L942.8 953.6L946 951.9L948.9 949.3M967.6 938.6L970.5 937L971.9 934.6L974.5 933.4L976.8 930.4L980.1 928.7L982.6 926.3L986.1 924L988.8 922.2L990.8 920.1L992.8 918M1008.7 904.9L1010.8 902L1012 899.5L1012.9 896.4L1014.3 893.7L1017.1 890.9L1020.4 889.2L1022.6 885.6L1025.9 882.4L1028.6 881.4L1032.1 879.2M1044.5 862.8L1046.4 860.1L1048.8 858.4L1050.9 856L1054.2 853.6L1056.4 850.8L1058.6 847.2L1059.2 843.8L1062 841.9L1065.1 841.5L1068 841.1L1071.3 840.4M1082.6 824.7L1084.8 821.5L1087.4 819.4L1090.6 818.4L1094 816.9L1096.5 814.2L1099.1 812.4L1101.7 809.9L1104.9 806.8L1108.3 805.8L1109.7 804.1L1113 803.3M1125.5 787.3L1128.2 785.3L1130 783L1131.7 781L1134.1 779.6L1137 777.7L1140.9 776L1144.4 774.9L1146.3 772L1149.4 769.9L1151 766.7L1153.1 764.3M1162.8 747.6L1167 749.1L1167.9 746.9L1170.1 744.8L1172.9 743.8L1176.4 742L1178.6 740.2L1180.2 737.5L1182.7 736.1L1184.8 733.1L1186.8 730.7L1188.7 728.8M1205.7 716.7L1208.1 715.3L1211 713.3L1214.5 710.4L1217.3 707.8L1220.8 705.6L1223.9 709.6L1224.8 706.7L1224.4 703.6L1224.9 700M1500 793.1L1503.1 793.8L1505.3 795.3L1508 796.6M1512.4 804.2L1516.9 803.3L1518.8 806.7L1522.1 810.2L1523.7 813.9L1526.1 811.5L1527.8 809.1L1530.1 807.1L1531.9 809.2L1534 812.5M1544.2 815.3L1549 816.8L1550.3 820.2L1552.1 824.6L1553.6 827.5L1556.3 825.1L1559.1 822.7M1575.1 829.6L1579.2 825.9L1579.4 829.9L1579.5 833.2L1580.1 837.5L1580.8 840.6L1580.5 843.8L1581.3 847.5L1581.9 851L1582.3 854.4M1585.5 829.6L1587.5 832L1588.5 834.1L1593.6 833.3L1594.6 837.1L1596.4 840L1597.9 842.5L1600 844.3L1602.8 845.8L1606.2 844.6L1608.8 842.9M1614 847.1L1616.1 849.6L1616.9 852.1L1619 855.1L1622.1 850.9L1623.7 853.9L1625.1 856.4L1626.7 859.4L1630.1 857.8L1632.7 856.5M1649 859.8L1650 863.4L1651.1 866.4L1651.8 870.3L1652.8 873.7L1654.9 869L1656.3 865.8L1660.7 865.2M1679.2 872.5L1683.1 872.2L1686.5 872.6L1689.7 871.3L1693.8 871.8L1696.4 874L1698.3 876.8L1701.8 873.8L1703.9 876.6L1706.8 879.1L1710.4 875.8M1715.7 890.7L1715.9 894.9L1717.4 898.2L1717 902.2L1717.8 905.8L1717.5 908.8L1718.7 912.5L1718.9 915.6L1719.7 918.7L1719.6 922.1L1719.9 924.7L1720.2 927.7"/>
</g>
<path class="a" d="M258.9 1356.5v-18.3M258.9 74.8v18.3M413.3 1356.5v-18.3M413.3 74.8v18.3M567.7 1356.5v-18.3M567.7 74.8v18.3M722.1 1356.5v-18.3M722.1 74.8v18.3M876.5 1356.5v-18.3M876.5 74.8v18.3M1030.9 1356.5v-18.3M1030.9 74.8v18.3M1185.4 1356.5v-18.3M1185.4 74.8v18.3M1339.8 1356.5v-18.3M1339.8 74.8v18.3M1494.2 1356.5v-18.3M1494.2 74.8v18.3M1648.6 1356.5v-18.3M1648.6 74.8v18.3M1803 1356.5v-18.3M1803 74.8v18.3M232.5 1228h18.3M1854 1228h-18.3M232.5 1099.9h18.3M1854 1099.9h-18.3M232.5 971.8h18.3M1854 971.8h-18.3M232.5 843.6h18.3M1854 843.6h-18.3M232.5 715.5h18.3M1854 715.5h-18.3M232.5 587.4h18.3M1854 587.4h-18.3M232.5 459.2h18.3M1854 459.2h-18.3M232.5 331.1h18.3M1854 331.1h-18.3M232.5 203h18.3M1854 203h-18.3"/>
<path fill="#4d4d4f" fill-rule="evenodd" d="M231 73H1855.9V1357.8H231ZM234 76.7V1355.1H1852.1V76.7Z"/>
<g class="tick" text-anchor="middle">
<text x="261.5" y="1459.5">0</text>
<text x="416.4" y="1459.5">2</text>
<text x="571.6" y="1459.5">4</text>
<text x="726.9" y="1459.5">6</text>
<text x="884" y="1459.5">8</text>
<text x="1039.7" y="1459.5">10</text>
<text x="1196.3" y="1459.5">12</text>
<text x="1350.8" y="1459.5">14</text>
<text x="1506" y="1459.5">16</text>
<text x="1662.1" y="1459.5">18</text>
<text x="1816" y="1459.5">20</text>
</g>
<g class="tick" text-anchor="end">
<text x="205" y="91">5</text>
<text x="205" y="219.8">4</text>
<text x="205" y="348.6">3</text>
<text x="205" y="477.3">2</text>
<text x="203.5" y="606.1">1</text>
<text x="205" y="734.9">0</text>
<text x="203.5" y="863.7">-1</text>
<text x="205" y="992.5">-2</text>
<text x="205" y="1121.2">-3</text>
<text x="205" y="1250">-4</text>
<text x="205" y="1378.8">-5</text>
</g>
<text class="lab" style="font-size:88.6px" text-anchor="middle" x="1039.2" y="1547.7">Time s</text>
<text class="lab" text-anchor="middle" transform="translate(97 664) rotate(-90)">X-position m</text>
<g id="legend">
<rect x="876.5" y="123.5" width="928" height="198" fill="#fff"/>
<path fill="#4d4d4f" fill-rule="evenodd" d="M875 122H1806.85V322.7H875ZM878 124.9V320H1803V124.9Z"/>
<path class="g" d="M878.4 203H931"/>
<path fill="#231f20" d="M896 159.1h150v3.7h-150z"/>
<path fill="#1b9dd9" d="M896 221h37.8v3h-37.8zM955.6 221h37.8v3h-37.8zM1015.2 221h30.8v3h-30.8z"/>
<path fill="#ea108c" d="M896 282h37.8v3.9h-37.8zM955.6 282h37.8v3.9h-37.8zM1015.2 282h30.8v3.9h-30.8z"/>
<text class="leg" x="1056.8" y="180">Reference</text>
<text class="leg" x="1056.8" y="241.2" textLength="707.5" lengthAdjust="spacing">Estimated position (Simpled mode)</text>
<text class="leg" x="1056.8" y="302.9" textLength="743.6" lengthAdjust="spacing">Estimated position (Bayessian mode)</text>
</g>
</svg>
</body>
</html>
